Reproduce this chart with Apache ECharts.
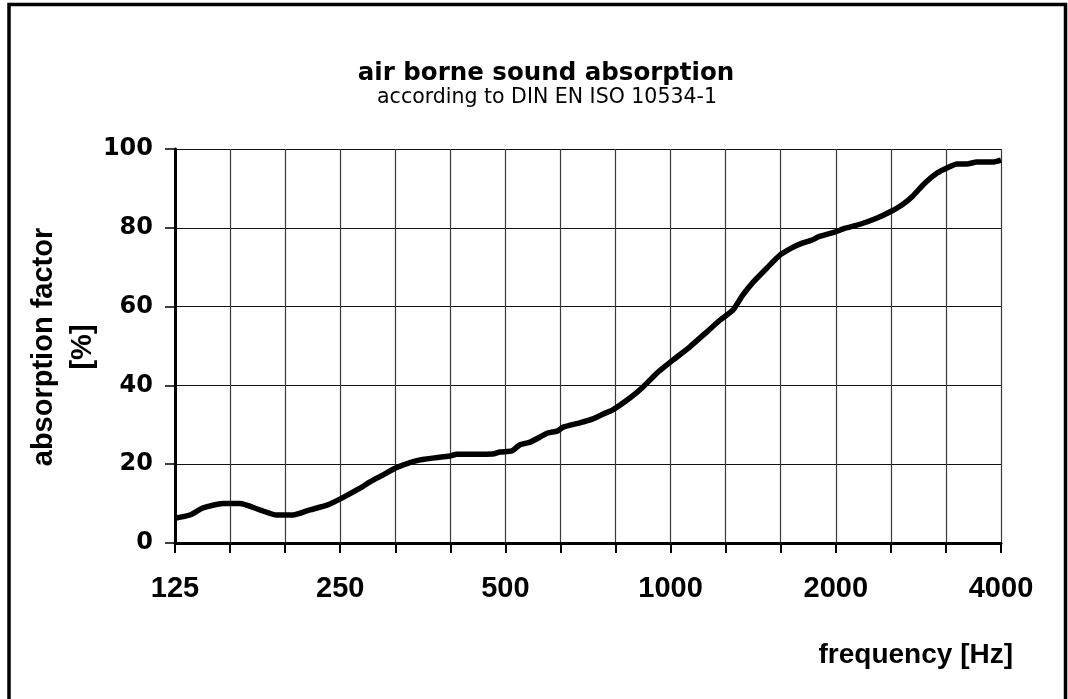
<!DOCTYPE html>
<html>
<head>
<meta charset="utf-8">
<script src="https://cdn.jsdelivr.net/npm/echarts@6/dist/echarts.min.js"></script>
<style>
  html, body { margin: 0; padding: 0; background: #fff; }
  #chart { width: 1068px; height: 699px; }
</style>
</head>
<body>
<div id="chart"></div>
<script>
// third-octave band centre frequencies (equally spaced on the axis)
const bandFreqs = [125, 160, 200, 250, 315, 400, 500, 630, 800, 1000, 1250, 1600, 2000, 2500, 3150, 4000];
const labeledFreqs = [125, 250, 500, 1000, 2000, 4000];
// curve samples: position in band steps from 125 Hz, absorption factor in %
const bandPos = [0, 0.27, 0.51, 0.87, 1.18, 1.54, 1.85, 2.14, 2.45, 2.76, 3.03, 3.36, 3.54, 3.78, 4.03, 4.45, 4.99, 5.12, 5.77, 5.90, 6.12, 6.26, 6.45, 6.77, 6.94, 7.05, 7.35, 7.59, 7.77, 7.95, 8.26, 8.50, 8.75, 9.04, 9.35, 9.66, 9.90, 10.13, 10.31, 10.50, 10.75, 10.99, 11.20, 11.39, 11.57, 11.68, 11.98, 12.17, 12.44, 12.75, 12.98, 13.20, 13.40, 13.62, 13.84, 14.02, 14.20, 14.38, 14.56, 14.85, 15.00];
const absorption = [6.3, 7.1, 8.9, 10.0, 10.0, 8.4, 7.1, 7.1, 8.4, 9.6, 11.4, 13.9, 15.5, 17.3, 19.2, 21.1, 22.1, 22.5, 22.6, 23.1, 23.4, 24.9, 25.6, 27.9, 28.4, 29.4, 30.5, 31.5, 32.7, 33.8, 36.8, 39.6, 43.1, 46.4, 49.8, 53.6, 56.6, 59.1, 62.9, 66.2, 69.8, 73.1, 74.9, 76.1, 76.9, 77.7, 78.9, 79.9, 80.9, 82.5, 84.0, 85.8, 88.1, 91.4, 93.9, 95.2, 96.2, 96.2, 96.7, 96.7, 97.2];
const yTicks = [0, 20, 40, 60, 80, 100];

const chart = echarts.init(document.getElementById('chart'), null, { renderer: 'canvas' });
const data = bandPos.map((p, i) => [p, absorption[i]]);

chart.setOption({
  animation: false,
  backgroundColor: '#ffffff',
  grid: { left: 175, right: 67, top: 149, bottom: 156, containLabel: false },
  xAxis: {
    type: 'value',
    min: 0,
    max: bandFreqs.length - 1,
    interval: 1,
    axisLine: { show: true, onZero: false, lineStyle: { color: '#000', width: 3 } },
    axisTick: { show: true, inside: false, length: 10, lineStyle: { color: '#000', width: 2 } },
    axisLabel: {
      margin: 31,
      fontFamily: 'Liberation Sans, Arial, sans-serif',
      fontWeight: 'bold',
      fontSize: 29,
      color: '#000',
      formatter: function (v) {
        const f = bandFreqs[Math.round(v)];
        return labeledFreqs.indexOf(f) >= 0 ? String(f) : '';
      }
    },
    splitLine: { show: true, lineStyle: { color: '#3a3a3a', width: 1.2 } }
  },
  yAxis: {
    type: 'value',
    min: yTicks[0],
    max: yTicks[yTicks.length - 1],
    interval: 20,
    axisLine: { show: true, lineStyle: { color: '#000', width: 3 } },
    axisTick: { show: true, inside: false, length: 10, lineStyle: { color: '#000', width: 1.5 } },
    axisLabel: {
      margin: 22,
      fontFamily: 'DejaVu Sans, sans-serif',
      fontWeight: 'bold',
      fontSize: 24,
      color: '#000'
    },
    splitLine: { show: true, lineStyle: { color: '#111', width: 1.2 } }
  },
  series: [{
    type: 'line',
    data: data,
    smooth: 0.2,
    showSymbol: false,
    symbol: 'none',
    lineStyle: { color: '#000', width: 5.5 },
    z: 5
  }],
  graphic: [
    {
      type: 'rect',
      shape: { x: 9, y: 4.5, width: 1056.5, height: 800 },
      style: { fill: null, stroke: '#000', lineWidth: 3.5 },
      silent: true
    },
    {
      type: 'text',
      x: 546, y: 74,
      style: {
        text: 'air borne sound absorption',
        fontFamily: 'DejaVu Sans, sans-serif',
        fontWeight: 'bold',
        fontSize: 24.5,
        fill: '#000',
        align: 'center',
        verticalAlign: 'middle'
      }
    },
    {
      type: 'text',
      x: 547, y: 98,
      style: {
        text: 'according to DIN EN ISO 10534-1',
        fontFamily: 'DejaVu Sans, sans-serif',
        fontSize: 20.5,
        fill: '#000',
        align: 'center',
        verticalAlign: 'middle'
      }
    },
    {
      type: 'text',
      x: 63, y: 347,
      rotation: Math.PI / 2,
      style: {
        text: 'absorption factor\n[%]',
        fontFamily: 'Liberation Sans, Arial, sans-serif',
        fontWeight: 'bold',
        fontSize: 29,
        lineHeight: 39,
        fill: '#000',
        align: 'center',
        verticalAlign: 'middle'
      }
    },
    {
      type: 'text',
      x: 1013, y: 655,
      style: {
        text: 'frequency [Hz]',
        fontFamily: 'Liberation Sans, Arial, sans-serif',
        fontWeight: 'bold',
        fontSize: 28,
        fill: '#000',
        align: 'right',
        verticalAlign: 'middle'
      }
    }
  ]
});
</script>
</body>
</html>
